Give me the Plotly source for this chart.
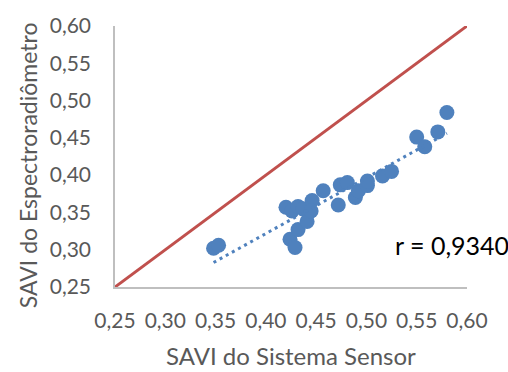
import numpy as np
import plotly.graph_objects as go

# SAVI values
savi_sensor = [0.348, 0.353, 0.420, 0.426, 0.432, 0.437, 0.424, 0.429, 0.432, 0.441,
               0.446, 0.457, 0.474, 0.481, 0.472, 0.489, 0.492, 0.501, 0.501, 0.516,
               0.525, 0.550, 0.558, 0.571, 0.580, 0.445]
savi_espectro = [0.302, 0.306, 0.357, 0.352, 0.358, 0.355, 0.314, 0.303, 0.327, 0.338,
                 0.366, 0.379, 0.387, 0.390, 0.360, 0.370, 0.379, 0.386, 0.392, 0.399,
                 0.405, 0.451, 0.438, 0.458, 0.484, 0.352]
one_to_one = [0.25, 0.60]
tick_vals = [0.25, 0.30, 0.35, 0.40, 0.45, 0.50, 0.55, 0.60]
r_label = "r = 0,9340"
x_title = "SAVI do Sistema Sensor"
y_title = "SAVI do Espectroradiômetro"

xs = np.array(savi_sensor)
ys = np.array(savi_espectro)
slope, intercept = np.polyfit(xs, ys, 1)
trend_x = [xs.min(), xs.max()]
trend_y = [slope * v + intercept for v in trend_x]

blue = "#4F81BD"
red = "#C0504D"
grey = "#595959"
font = "Lato"

W, H = 508, 372
L, R, T, B = 115, 41, 19, 85
pw, ph = W - L - R, H - T - B


def px_x(p):
    return (p - L) / pw


def px_y(p):
    return (H - B - p) / ph


fig = go.Figure()
fig.add_trace(go.Scatter(x=one_to_one, y=one_to_one, mode="lines",
                         line=dict(color=red, width=3), hoverinfo="skip"))
fig.add_trace(go.Scatter(x=xs, y=ys, mode="markers",
                         marker=dict(color=blue, size=15, line=dict(width=0))))
fig.add_trace(go.Scatter(x=trend_x, y=trend_y, mode="lines",
                         line=dict(color=blue, width=3, dash="3px,4px")))

axis_common = dict(range=[0.25, 0.60], tickvals=tick_vals, tickformat=".2f",
                   showgrid=False, zeroline=False, showline=True,
                   linecolor="#BFBFBF", linewidth=1.5,
                   ticks="outside", tickcolor="rgba(0,0,0,0)",
                   tickfont=dict(family=font, size=21, color=grey))

fig.update_layout(
    width=W, height=H,
    margin=dict(l=L, r=R, t=T, b=B),
    plot_bgcolor="white", paper_bgcolor="white",
    showlegend=False,
    separators=", ",
    xaxis=dict(**axis_common, ticklen=14),
    yaxis=dict(**axis_common, ticklen=18),
    annotations=[
        dict(text=r_label, x=px_x(452), y=px_y(244), xref="paper", yref="paper",
             xanchor="center", yanchor="middle", showarrow=False,
             font=dict(family=font, size=25, color="black")),
        dict(text=x_title, x=px_x(291), y=px_y(357), xref="paper", yref="paper",
             xanchor="center", yanchor="middle", showarrow=False,
             font=dict(family=font, size=24, color=grey)),
        dict(text=y_title, x=px_x(28), y=px_y(162), xref="paper", yref="paper",
             xanchor="center", yanchor="middle", showarrow=False, textangle=-90,
             font=dict(family=font, size=23, color=grey)),
    ],
)

fig.write_html("out.html")
